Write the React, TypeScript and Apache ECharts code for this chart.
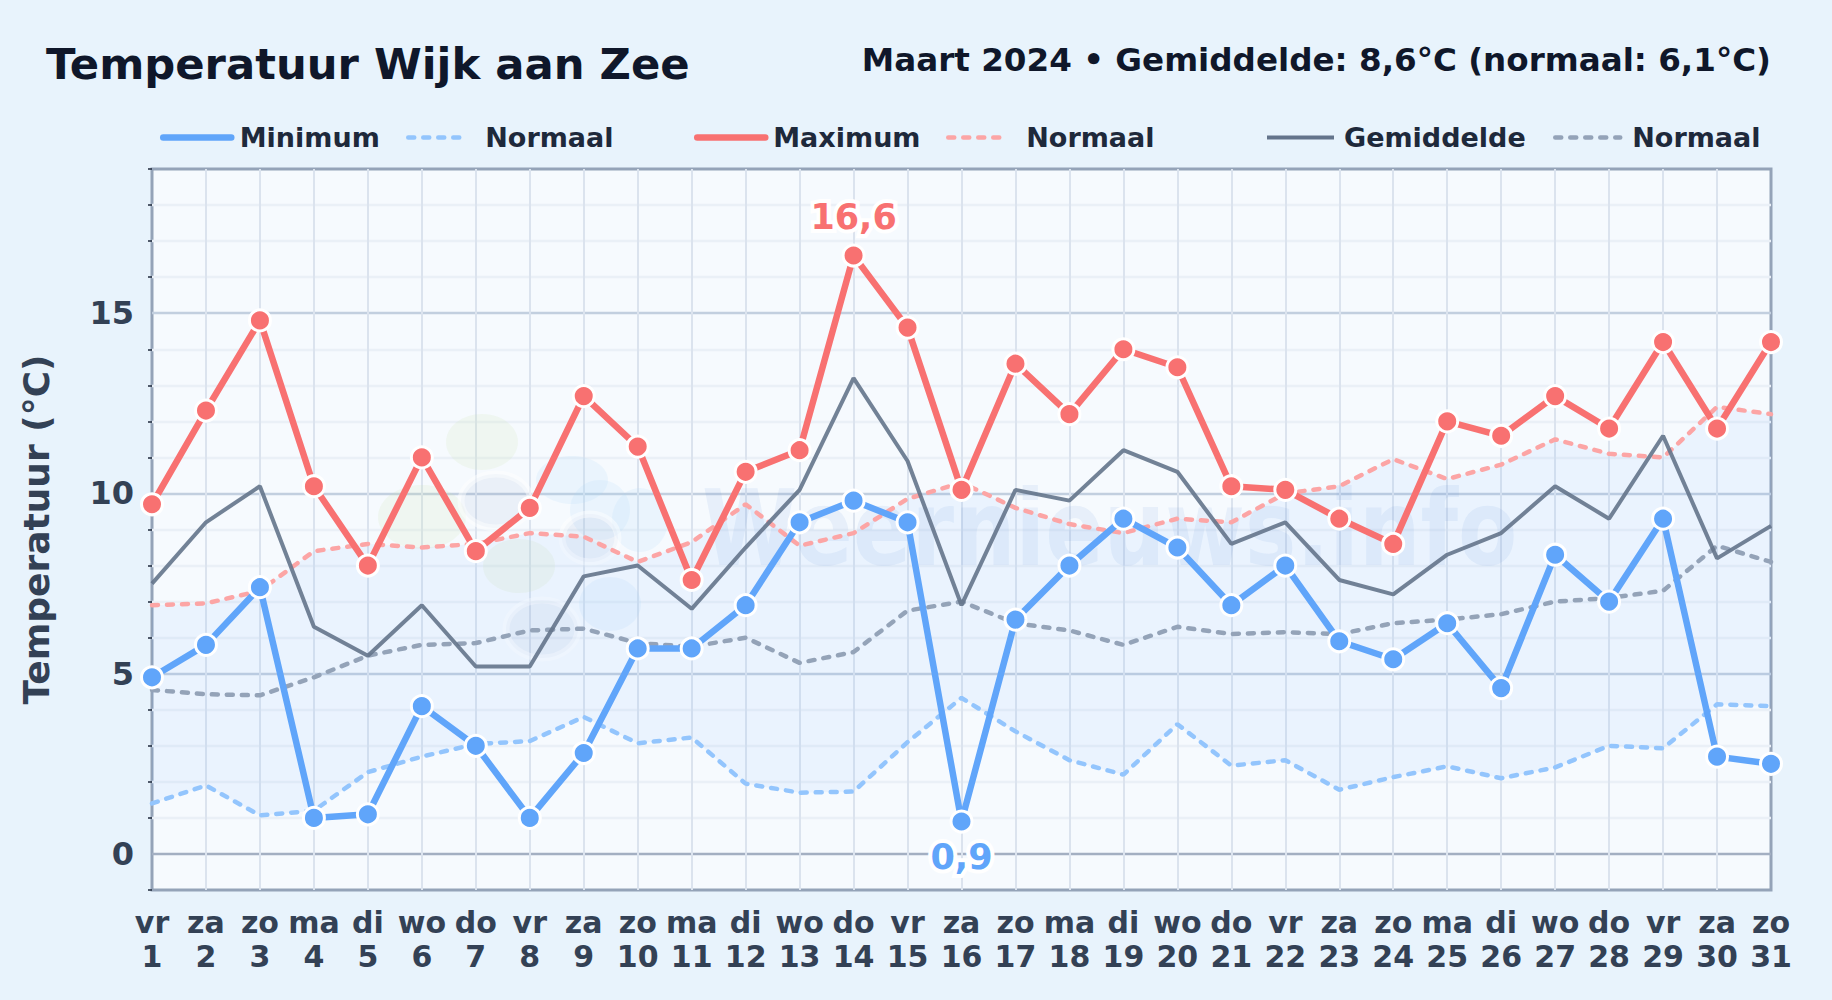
import React, { useEffect, useRef } from "react";
import * as echarts from "echarts";

const weekdays = ["vr","za","zo","ma","di","wo","do","vr","za","zo","ma","di","wo","do","vr","za","zo","ma","di","wo","do","vr","za","zo","ma","di","wo","do","vr","za","zo"];
const days = Array.from({ length: 31 }, (_, i) => String(i + 1));
const categories = weekdays.map((w, i) => `${w}\n${days[i]}`);

const minValues = [4.9,5.8,7.4,1.0,1.1,4.1,3.0,1.0,2.8,5.7,5.7,6.9,9.2,9.8,9.2,0.9,6.5,8.0,9.3,8.5,6.9,8.0,5.9,5.4,6.4,4.6,8.3,7.0,9.3,2.7,2.5];
const maxValues = [9.7,12.3,14.8,10.2,8.0,11.0,8.4,9.6,12.7,11.3,7.6,10.6,11.2,16.6,14.6,10.1,13.6,12.2,14.0,13.5,10.2,10.1,9.3,8.6,12.0,11.6,12.7,11.8,14.2,11.8,14.2];
const meanValues = [7.5,9.2,10.2,6.3,5.5,6.9,5.2,5.2,7.7,8.0,6.8,8.5,10.1,13.2,10.9,6.9,10.1,9.8,11.2,10.6,8.6,9.2,7.6,7.2,8.3,8.9,10.2,9.3,11.6,8.2,9.1];
const normalMin = [1.4,1.9,1.07,1.2,2.27,2.7,3.05,3.13,3.8,3.07,3.23,1.95,1.7,1.73,3.1,4.33,3.4,2.6,2.2,3.6,2.45,2.6,1.78,2.13,2.43,2.1,2.4,3.0,2.93,4.15,4.1];
const normalMax = [6.9,6.95,7.3,8.4,8.6,8.5,8.6,8.9,8.8,8.1,8.65,9.7,8.55,8.9,9.85,10.3,9.6,9.15,8.9,9.3,9.2,10.0,10.2,10.95,10.4,10.8,11.5,11.1,11.0,12.4,12.2];
const normalMean = [4.55,4.43,4.4,4.9,5.5,5.8,5.85,6.2,6.25,5.85,5.75,6.0,5.3,5.6,6.75,7.0,6.4,6.2,5.8,6.3,6.1,6.15,6.1,6.4,6.5,6.65,7.0,7.1,7.3,8.55,8.1];

const FONT = "DejaVu Sans";
const BLUE = "#60a5fa";
const RED = "#f87171";
const GREY = "#64748b";
const BLUE_D = "#93c5fd";
const RED_D = "#fca5a5";
const GREY_D = "#94a3b8";

const YMIN = -1;
const YMAX = 19;
const yTicks = Array.from({ length: YMAX - YMIN + 1 }, (_, i) => YMIN + i);
const splitColors = yTicks.slice(1, -1).map((v) => (v === 0 ? "#a3afc2" : v % 5 === 0 ? "#c2cfdf" : "#eaf0f7"));

const fmt = (v: number) => String(v).replace(".", ",");

const withLabel = (values: number[], idx: number, color: string, position: string, distance: number) =>
  values.map((v, i) =>
    i === idx
      ? {
          value: v,
          label: {
            show: true,
            position,
            distance,
            formatter: fmt(v),
            color,
            fontFamily: FONT,
            fontWeight: "bold",
            fontSize: 35,
            textBorderColor: "#ffffff",
            textBorderWidth: 8,
          },
        }
      : v
  );

const solidSeries = (name: string, data: any[], color: string) => ({
  name,
  type: "line",
  data,
  clip: false,
  symbol: "circle",
  symbolSize: 21,
  showAllSymbol: true,
  lineStyle: { color, width: 6.5 },
  itemStyle: { color, borderColor: "#ffffff", borderWidth: 3 },
  z: 5,
});

const dashedSeries = (name: string, data: number[], color: string) => ({
  name,
  type: "line",
  data,
  symbol: "none",
  clip: false,
  lineStyle: { color, width: 4.5, type: [6, 9], cap: "round" },
  z: 3,
});

const legendEntry = (
  name: string,
  left: number,
  width: number,
  gap: number,
  color: string,
  lineWidth: number,
  dashed: boolean,
  cap: string
) => ({
  show: true,
  left,
  top: 124,
  orient: "horizontal",
  padding: 0,
  itemWidth: width,
  itemHeight: 26,
  itemGap: 0,
  selectedMode: false,
  textStyle: { fontFamily: FONT, fontWeight: "bold", fontSize: 27, color: "#1e293b", padding: [0, 0, 0, gap] },
  data: [
    {
      name,
      itemStyle: { opacity: 0 },
      lineStyle: { color, width: lineWidth, type: dashed ? [6, 9] : "solid", cap, opacity: 1 },
    },
  ],
});

const blob = (cx: number, cy: number, rx: number, ry: number, fill: string, halo = false) => ({
  type: "ellipse",
  shape: { cx, cy, rx, ry },
  style: { fill, stroke: halo ? "rgba(255,255,255,0.45)" : "transparent", lineWidth: halo ? 7 : 0 },
  silent: true,
  z: 1,
});

export default function App() {
  const ref = useRef<HTMLDivElement>(null);
  useEffect(() => {
    document.body.style.margin = "0";
    const chart = echarts.init(ref.current!, undefined, { renderer: "svg" });
    const green = "rgba(200,225,170,0.15)";
    const sky = "rgba(170,215,250,0.15)";
    const slate = "rgba(100,130,180,0.08)";
    chart.setOption({
      animation: false,
      backgroundColor: "#e8f3fc",
      title: [
        {
          text: "Temperatuur Wijk aan Zee",
          left: 46,
          top: 42,
          padding: 0,
          textStyle: { fontFamily: FONT, fontWeight: "bold", fontSize: 43.3, color: "#0f172a" },
        },
        {
          text: "Maart 2024 • Gemiddelde: 8,6°C (normaal: 6,1°C)",
          right: 61,
          top: 43,
          padding: 0,
          textStyle: { fontFamily: FONT, fontWeight: "bold", fontSize: 32.6, color: "#0f172a" },
        },
      ],
      legend: [
        legendEntry("Minimum", 160, 68, 3.5, BLUE, 6.5, false, "round"),
        legendEntry("Normaal", 406, 58, 14, BLUE_D, 4.5, true, "round"),
        legendEntry("Maximum", 694, 68, 3, RED, 6.5, false, "round"),
        legendEntry("Normaal", 946, 59, 14, RED_D, 4.5, true, "round"),
        legendEntry("Gemiddelde", 1265, 67, 5, GREY, 4, false, "butt"),
        legendEntry("Normaal", 1553, 65, 7, GREY_D, 4.5, true, "round"),
      ],
      grid: {
        show: true,
        left: 152,
        top: 169,
        width: 1619,
        height: 721,
        backgroundColor: "#f6fafe",
        borderColor: "#94a3b8",
        borderWidth: 3,
      },
      xAxis: {
        type: "category",
        data: categories,
        boundaryGap: false,
        axisLine: { show: false },
        axisTick: { show: false },
        splitLine: {
          show: true,
          interval: 0,
          showMinLine: false,
          showMaxLine: false,
          lineStyle: { color: "#dbe3ee", width: 2 },
        },
        axisLabel: {
          interval: 0,
          margin: 15,
          hideOverlap: false,
          fontFamily: FONT,
          fontWeight: "bold",
          fontSize: 30,
          lineHeight: 34,
          color: "#334155",
        },
      },
      yAxis: [
        {
          type: "value",
          min: YMIN,
          max: YMAX,
          interval: 1,
          name: "Temperatuur (°C)",
          nameLocation: "middle",
          nameGap: 98,
          nameTextStyle: { fontFamily: FONT, fontWeight: "bold", fontSize: 36, color: "#334155" },
          axisLine: { show: false },
          axisTick: { show: false },
          splitLine: {
            show: true,
            showMinLine: false,
            showMaxLine: false,
            lineStyle: { color: splitColors, width: 2.4 },
          },
          axisLabel: {
            margin: 18,
            fontFamily: FONT,
            fontWeight: "bold",
            fontSize: 32,
            color: "#334155",
            formatter: (v: number) => (v % 5 === 0 ? String(v) : ""),
          },
        },
        {
          type: "value",
          min: YMIN,
          max: YMAX,
          position: "left",
          axisLine: { show: false },
          axisLabel: { show: false },
          splitLine: { show: false },
          axisTick: {
            show: true,
            length: 4,
            lineStyle: { color: "#1e293b", width: 1.5 },
            customValues: yTicks.filter((v) => v % 5 !== 0),
          },
        },
      ],
      graphic: [
        blob(482, 442, 36, 28, green),
        blob(422, 517, 44, 32, green),
        blob(519, 566, 36, 27, green),
        blob(572, 480, 36, 24, sky),
        blob(600, 510, 30, 30, sky),
        blob(640, 520, 28, 32, sky),
        blob(610, 604, 31, 27, sky),
        blob(496, 501, 35, 27, slate, true),
        blob(590, 538, 28, 24, slate, true),
        blob(542, 629, 36, 29, slate, true),
        {
          type: "text",
          x: 702,
          y: 476,
          scaleX: 0.823,
          silent: true,
          z: 1,
          style: {
            text: "Weernieuws.info",
            font: `bold 105px "${FONT}"`,
            fill: "rgba(96,150,220,0.1)",
          },
        },
      ],
      series: [
        {
          name: "bandBase",
          type: "line",
          stack: "band",
          data: normalMin,
          symbol: "none",
          lineStyle: { width: 0, opacity: 0 },
          z: 2,
        },
        {
          name: "bandRange",
          type: "line",
          stack: "band",
          data: normalMax.map((v, i) => +(v - normalMin[i]).toFixed(2)),
          symbol: "none",
          lineStyle: { width: 0, opacity: 0 },
          areaStyle: { color: "rgba(96,165,250,0.08)", opacity: 1 },
          z: 2,
        },
        dashedSeries("Normaal", normalMin, BLUE_D),
        dashedSeries("Normaal", normalMax, RED_D),
        dashedSeries("Normaal", normalMean, GREY_D),
        {
          name: "Gemiddelde",
          type: "line",
          data: meanValues,
          symbol: "none",
          clip: false,
          lineStyle: { color: GREY, width: 4, opacity: 0.9 },
          z: 4,
        },
        solidSeries("Minimum", withLabel(minValues, 15, BLUE, "bottom", 6), BLUE),
        solidSeries("Maximum", withLabel(maxValues, 13, RED, "top", 9), RED),
      ],
    });
    return () => chart.dispose();
  }, []);
  return <div ref={ref} style={{ width: 1832, height: 1000, overflow: "hidden" }} />;
}
